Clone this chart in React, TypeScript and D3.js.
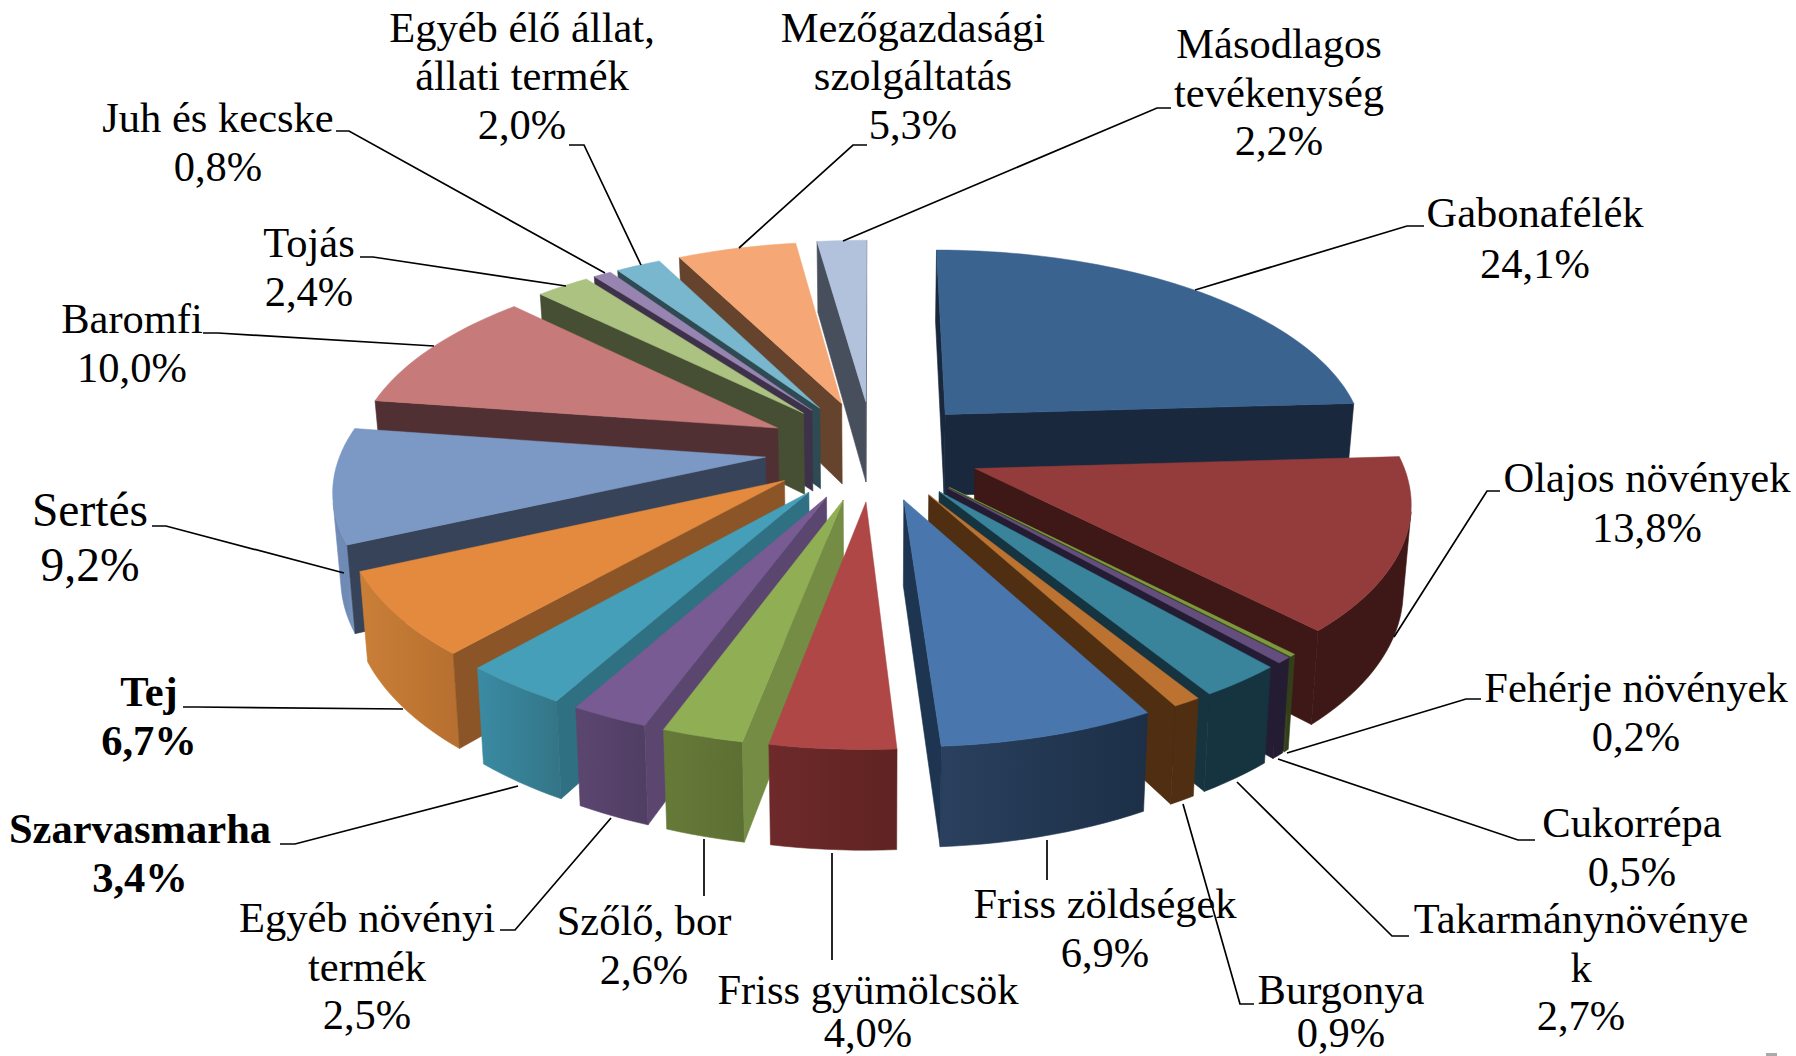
import React from "react";
import * as d3 from "d3";

// ---- data ----
const categories = ["Gabonafélék","Olajos növények","Fehérje növények","Cukorrépa","Takarmánynövények","Burgonya","Friss zöldségek","Friss gyümölcsök","Szőlő, bor","Egyéb növényi termék","Szarvasmarha","Tej","Sertés","Baromfi","Tojás","Juh és kecske","Egyéb élő állat, állati termék","Mezőgazdasági szolgáltatás","Másodlagos tevékenység"];
const shares = [24.1,13.8,0.2,0.5,2.7,0.9,6.9,4.0,2.6,2.5,3.4,6.7,9.2,10.0,2.4,0.8,2.0,5.3,2.2];

// ---- style per slice: top face, cut face, rim (two ends) ----
const topColors = ["#3a6390","#933c3b","#7d9b3e","#644e7e","#39839b","#bc7231","#4976ad","#ae4745","#90ae54","#775b92","#459fb8","#e38a3f","#7c98c4","#c67a79","#abc281","#9884b0","#78b7cd","#f5a775","#b2c2dc"];
const cutColors = ["#19283c","#3d1816","#333f1a","#241c33","#16343f","#4f2e12","#1d3550","#6b2a2a","#748c44","#5b4670","#2f7083","#8b5528","#364358","#513033","#464f33","#3e324b","#2e4a52","#65432d","#484f5c"];
const rimStart = ["#19283c","#3d1816","#333f1a","#241c33","#16343f","#4f2e12","#1c2f47","#602222","#5d7033","#513e63","#347688","#b87030","#6e8ab5","#513033","#464f33","#3e324b","#2e4a52","#65432d","#484f5c"];
const rimEnd = ["#19283c","#3d1816","#333f1a","#241c33","#16343f","#4f2e12","#2a405e","#6e2a2a","#667a38","#5b4670","#3a8ba3","#c97f37","#7a97c2","#513033","#464f33","#3e324b","#2e4a52","#65432d","#484f5c"];

// ---- projection ----
const W = 1796, H = 1056;
const CX = 873, CY = 450;
const R = 424, EXPLODE = 108, TILT = 0.464, PERSP = 0.000331, DEPTH = 83, BOTTOM = 0.985;

type P = [number, number];
function project(x: number, y: number, drop: boolean): P {
  const s = 1 / (1 - PERSP * y);
  const q = drop ? BOTTOM : 1;
  return [CX + x * s * q, CY + y * TILT * s + (drop ? DEPTH * s : 0)];
}

// ---- labels ----
const FS = 42.5;
type Lab = { lines: string[]; x: number; y: number[]; size?: number; bold?: boolean; lead: P[] };
const labels: Lab[] = [
  { lines: ["Gabonafélék","24,1%"], x: 1535, y: [214,265], lead: [[1424,226],[1407,226],[1195,290]] },
  { lines: ["Olajos növények","13,8%"], x: 1647, y: [479,529], lead: [[1500,491],[1487,491],[1394,637]] },
  { lines: ["Fehérje növények","0,2%"], x: 1636, y: [689,738], lead: [[1481,699],[1466,699],[1287,753]] },
  { lines: ["Cukorrépa","0,5%"], x: 1632, y: [824,873], lead: [[1535,840],[1518,840],[1278,759]] },
  { lines: ["Takarmánynövénye","k","2,7%"], x: 1581, y: [920,969,1017], lead: [[1409,936],[1392,936],[1237,782]] },
  { lines: ["Burgonya","0,9%"], x: 1341, y: [991,1034], lead: [[1254,1004],[1240,1004],[1183,804]] },
  { lines: ["Friss zöldségek","6,9%"], x: 1105, y: [905,954], lead: [[1047,880],[1047,840]] },
  { lines: ["Friss gyümölcsök","4,0%"], x: 868, y: [991,1034], lead: [[832,960],[832,853]] },
  { lines: ["Szőlő, bor","2,6%"], x: 644, y: [922,971], lead: [[704,896],[704,839]] },
  { lines: ["Egyéb növényi","termék","2,5%"], x: 367, y: [919,968,1016], lead: [[500,930],[515,930],[611,818]] },
  { lines: ["Szarvasmarha","3,4%"], x: 140, y: [830,879], bold: true, lead: [[280,844],[295,844],[518,786]] },
  { lines: ["Tej","6,7%"], x: 149, y: [693,742], bold: true, lead: [[183,707],[197,707],[403,709]] },
  { lines: ["Sertés","9,2%"], x: 90, y: [513,568], size: 47.5, lead: [[152,526],[166,526],[344,573]] },
  { lines: ["Baromfi","10,0%"], x: 132, y: [320,369], lead: [[203,333],[218,333],[434,346]] },
  { lines: ["Tojás","2,4%"], x: 309, y: [244,293], lead: [[360,257],[373,257],[566,286]] },
  { lines: ["Juh és kecske","0,8%"], x: 218, y: [119,168], lead: [[336,131],[349,131],[605,273]] },
  { lines: ["Egyéb élő állat,","állati termék","2,0%"], x: 522, y: [29,77,126], lead: [[569,145],[584,145],[641,265]] },
  { lines: ["Mezőgazdasági","szolgáltatás","5,3%"], x: 913, y: [29,77,126], lead: [[867,145],[853,145],[739,248]] },
  { lines: ["Másodlagos","tevékenység","2,2%"], x: 1279, y: [45,94,142], lead: [[1171,108],[1157,108],[843,241]] },
];

const toPath = d3.line<P>();

export default function App() {
  const arcs = d3.pie<number>().sort(null).value((d) => d)(shares);
  const slices = arcs.map((a, i) => {
    const mid = (a.startAngle + a.endAngle) / 2;
    const ox = EXPLODE * Math.sin(mid);
    const oy = -EXPLODE * Math.cos(mid);
    const n = Math.max(2, Math.ceil((a.endAngle - a.startAngle) / 0.03));
    const angles = d3.range(n + 1).map((k) => a.startAngle + ((a.endAngle - a.startAngle) * k) / n);
    const rimPts = (drop: boolean) =>
      angles.map((t) => project(ox + R * Math.sin(t), oy - R * Math.cos(t), drop));
    const topRim = rimPts(false), botRim = rimPts(true);
    const apexT = project(ox, oy, false), apexB = project(ox, oy, true);
    const quads: { pts: P[]; fill: string }[] = [];
    const visible = (p: P, q: P, pd: P) => (q[0] - p[0]) * (pd[1] - p[1]) - (q[1] - p[1]) * (pd[0] - p[0]) < 0;
    if (visible(apexT, topRim[0], apexB)) quads.push({ pts: [apexT, topRim[0], botRim[0], apexB], fill: cutColors[i] });
    if (visible(topRim[n], apexT, botRim[n])) quads.push({ pts: [topRim[n], apexT, apexB, botRim[n]], fill: cutColors[i] });
    // outer wall: one polygon over the run of rim segments that face the viewer
    const vis = d3.range(n).filter((k) => visible(topRim[k], topRim[k + 1], botRim[k]));
    let wall: P[] | null = null;
    if (vis.length) {
      const k0 = vis[0], k1 = vis[vis.length - 1] + 1;
      wall = [...topRim.slice(k0, k1 + 1), ...botRim.slice(k0, k1 + 1).reverse()];
    }
    const top: P[] = [apexT, ...topRim];
    const x1 = topRim[0][0], x2 = topRim[n][0];
    return { i, depth: -Math.cos(mid), quads, top, wall, x1, x2 };
  });
  const order = d3.sort(slices, (s) => s.depth);

  return (
    <svg width={W} height={H} viewBox={`0 0 ${W} ${H}`} style={{ position: "absolute", left: 0, top: 0, background: "#fff" }}>
      <defs>
        {slices.map((s) => (
          <linearGradient key={s.i} id={`rim${s.i}`} gradientUnits="userSpaceOnUse" x1={s.x1} x2={s.x2} y1={0} y2={0}>
            <stop offset="0" stopColor={rimStart[s.i]} />
            <stop offset="1" stopColor={rimEnd[s.i]} />
          </linearGradient>
        ))}
      </defs>
      {order.map((s) => (
        <g key={categories[s.i]}>
          {s.wall && <path d={toPath(s.wall) + "Z"} fill={`url(#rim${s.i})`} stroke={`url(#rim${s.i})`} strokeWidth={0.6} />}
          {s.quads.map((q, j) => (
            <path key={j} d={toPath(q.pts) + "Z"} fill={q.fill} stroke={q.fill} strokeWidth={0.6} />
          ))}
          <path d={toPath(s.top) + "Z"} fill={topColors[s.i]} stroke={topColors[s.i]} strokeWidth={0.5} />
        </g>
      ))}
      {labels.map((l) => (
        <g key={l.lines.join()}>
          <text textAnchor="middle" fontFamily="'Liberation Serif'" fontSize={l.size ?? FS} fontWeight={l.bold ? 700 : 400} fill="#000">
            {l.lines.map((t, j) => (
              <tspan key={j} x={l.x} y={l.y[j] + 13}>{t}</tspan>
            ))}
          </text>
          <path d={toPath(l.lead)!} fill="none" stroke="#000" strokeWidth={1.7} />
        </g>
      ))}
      <rect x={1766} y={1053} width={11} height={3} fill="#aaa" />
    </svg>
  );
}
